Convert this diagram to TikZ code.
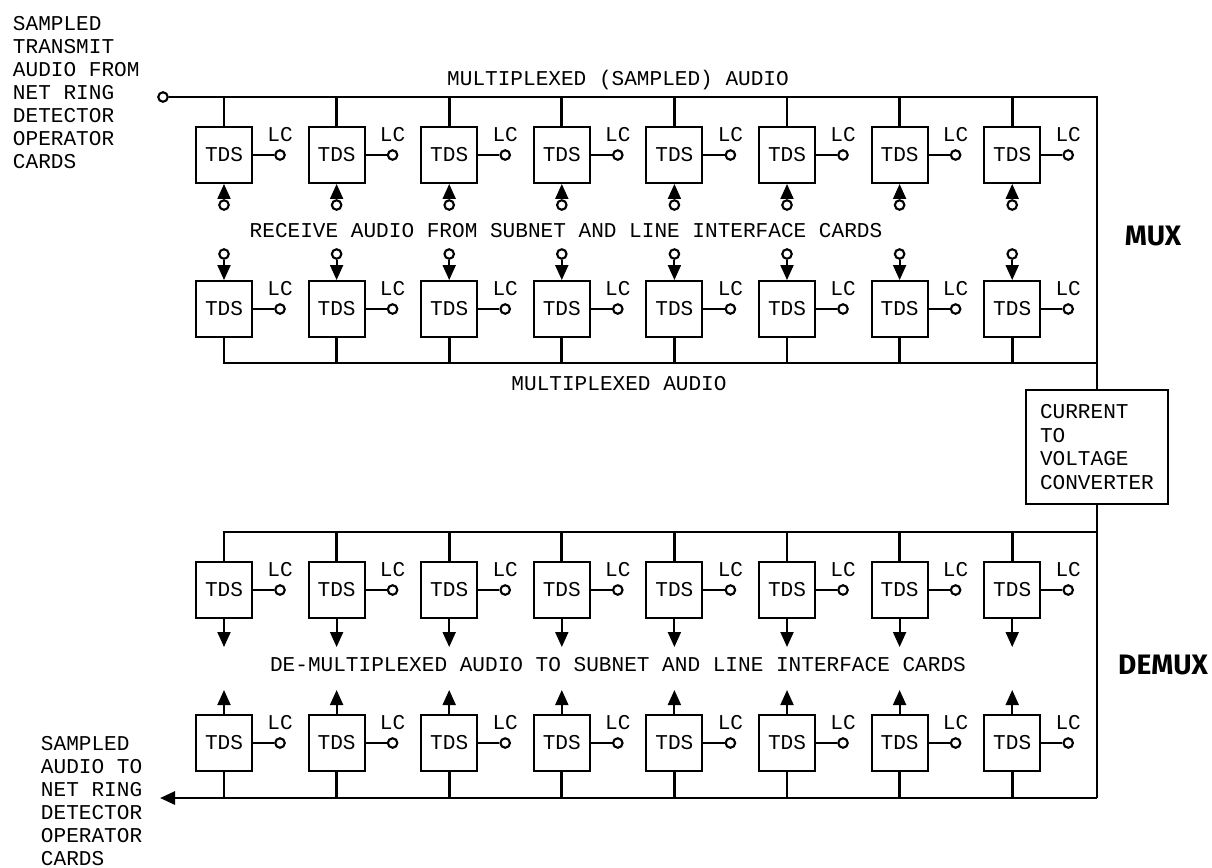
\documentclass[tikz,border=0pt]{standalone}
\usepackage{fontspec}
\setmainfont{Liberation Mono}
\newfontfamily\muxfont{Fira Sans}
\usepackage{tikz}
\usetikzlibrary{arrows.meta,positioning}
\tikzset{
  tds/.style={draw,line width=1.1pt,minimum width=1.12cm,minimum height=1.12cm,inner sep=0pt,font=\fontsize{12}{13}\selectfont},
  term/.style={circle,draw,line width=1.2pt,fill=white,minimum size=0.19cm,inner sep=0pt},
  lclab/.style={inner sep=0pt,font=\fontsize{12}{13}\selectfont},
  lcend/.style={term,label={[lclab,label distance=0.14cm]90:LC}},
  bus/.style={line width=1.6pt},
  arr/.style={-{Triangle[width=0.26cm,length=0.3cm]}},
  buslab/.style={inner sep=0pt,font=\fontsize{12}{13}\selectfont},
  sidetext/.style={anchor=north west,align=left,inner sep=0pt,font=\fontsize{12}{13.1}\selectfont},
  convbox/.style={draw,line width=1.1pt,minimum width=2.84cm,minimum height=2.28cm,text width=2.28cm,inner xsep=0.28cm,align=left,font=\fontsize{12}{13.3}\selectfont},
  muxlab/.style={inner sep=0pt,font=\muxfont\bfseries\fontsize{16}{19}\selectfont}
}
\begin{document}
\begin{tikzpicture}[x=0.02cm,y=-0.02cm,line width=1.1pt]
\useasboundingbox (0,0) rectangle (1212,867);
% four rows of eight TDS switches
\foreach \i in {0,...,7}{
  \pgfmathsetmacro\cx{224+112.6*\i}
  \node[tds] (tdsa\i) at (\cx,155) {TDS};
  \node[tds] (tdsb\i) at (\cx,309) {TDS};
  \node[tds] (tdsc\i) at (\cx,590) {TDS};
  \node[tds] (tdsd\i) at (\cx,743) {TDS};
  \node[lcend] (lca\i) at (\cx+56,155) {};
  \node[lcend] (lcb\i) at (\cx+56,309) {};
  \node[lcend] (lcc\i) at (\cx+56,590) {};
  \node[lcend] (lcd\i) at (\cx+56,743) {};
  \draw (tdsa\i) -- (lca\i);
  \draw (tdsb\i) -- (lcb\i);
  \draw (tdsc\i) -- (lcc\i);
  \draw (tdsd\i) -- (lcd\i);
  % receive audio in, de-multiplexed audio out
  \node[term] (rxa\i) at (\cx,205) {};
  \node[term] (rxb\i) at (\cx,254) {};
  \coordinate (dxc\i) at (\cx,647);
  \coordinate (dxd\i) at (\cx,690);
  \draw[arr] (rxa\i) -- (tdsa\i);
  \draw[arr] (rxb\i) -- (tdsb\i);
  \draw[arr] (tdsc\i) -- (dxc\i);
  \draw[arr] (tdsd\i) -- (dxd\i);
}
% buses
\node[term] (inA) at (163,97) {};
\coordinate (cornA) at (1097,97);
\coordinate (busB) at (1097,363);
\coordinate (busC) at (1097,532);
\coordinate (cornD) at (1097,798);
\coordinate (outD) at (160,798);
\node[convbox] (conv) at (1097,447) {CURRENT\\TO\\VOLTAGE\\CONVERTER};
\draw[bus] (inA) -- (cornA) -- (conv);
\draw[bus] (tdsb0) |- (busB);
\draw[bus] (tdsc0) |- (busC);
\draw[bus] (conv) -- (cornD);
\draw[bus,arr] (cornD) -- (outD);
\foreach \i in {0,...,7}{
  \draw[bus] (tdsa\i) -- (tdsa\i |- cornA);
  \draw[bus] (tdsd\i) -- (tdsd\i |- outD);
}
\foreach \i in {1,...,7}{
  \draw[bus] (tdsb\i) -- (tdsb\i |- busB);
  \draw[bus] (tdsc\i) -- (tdsc\i |- busC);
}
% labels
\node[buslab] (labA) at (618,80) {MULTIPLEXED (SAMPLED) AUDIO};
\node[buslab] (labB) at (566,231) {RECEIVE AUDIO FROM SUBNET AND LINE INTERFACE CARDS};
\node[buslab] (labC) at (619,384) {MULTIPLEXED AUDIO};
\node[buslab] (labD) at (618,665) {DE-MULTIPLEXED AUDIO TO SUBNET AND LINE INTERFACE CARDS};
\node[sidetext] (srcA) at (12,15) {SAMPLED\\TRANSMIT\\AUDIO FROM\\NET RING\\DETECTOR\\OPERATOR\\CARDS};
\node[sidetext] (dstD) at (40,735) {SAMPLED\\AUDIO TO\\NET RING\\DETECTOR\\OPERATOR\\CARDS};
\node[muxlab] (mux) at (1153,236) {MUX};
\node[muxlab] (demux) at (1163,665) {DEMUX};
\end{tikzpicture}
\end{document}
